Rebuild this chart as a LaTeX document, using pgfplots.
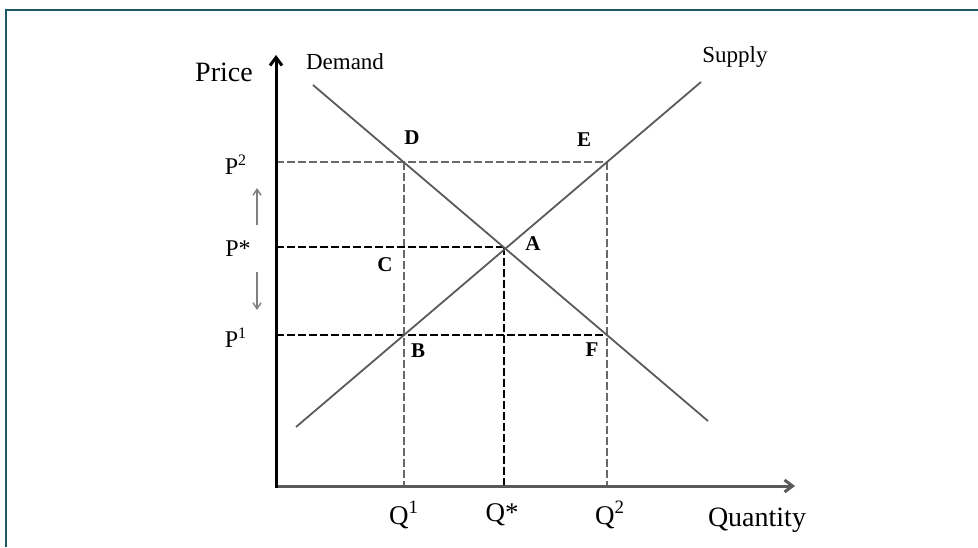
\documentclass[border=0pt]{standalone}
\usepackage{fontspec}
\setmainfont{Liberation Serif}
\usepackage{pgfplots}
\pgfplotsset{compat=1.18}
\usetikzlibrary{arrows.meta}
\definecolor{frameteal}{RGB}{28,88,102}
\definecolor{curvegray}{RGB}{90,90,90}
\definecolor{dashgray}{RGB}{105,105,105}
\definecolor{axisgray}{RGB}{90,90,90}

\begin{document}
\begin{tikzpicture}
\begin{axis}[
    width=489pt, height=273.5pt, scale only axis,
    xmin=-276, xmax=702, ymin=-61, ymax=486,
    hide axis, clip=false,
]
    % outer frame
    \addplot[frameteal, line width=1.3pt] coordinates {(-270,-61) (-270,476) (702,476)};
    % guide lines
    \addplot[dashgray, line width=1pt, dash pattern=on 4pt off 1.5pt] coordinates {(0,324) (331,324)};
    \addplot[dashgray, line width=1pt, dash pattern=on 4pt off 1.5pt] coordinates {(128,324) (128,0)};
    \addplot[dashgray, line width=1pt, dash pattern=on 4pt off 1.5pt] coordinates {(331,324) (331,0)};
    \addplot[black, line width=1pt, dash pattern=on 4pt off 1.5pt] coordinates {(0,239) (228,239)};
    \addplot[black, line width=1pt, dash pattern=on 4pt off 1.5pt] coordinates {(228,239) (228,0)};
    \addplot[black, line width=1pt, dash pattern=on 4pt off 1.5pt] coordinates {(0,151) (331,151)};
    % demand and supply
    \addplot[curvegray, line width=0.9pt] coordinates {(37,401) (432,65)};
    \addplot[curvegray, line width=0.9pt] coordinates {(20,59) (425,404)};
    % axes
    \addplot[axisgray, line width=1.5pt, -{Straight Barb[length=4pt,width=6pt]}] coordinates {(0,0) (519,0)};
    \addplot[black, line width=1.5pt, -{Straight Barb[length=4pt,width=6pt]}] coordinates {(0,-2) (0,431)};
    % price movement arrows
    \addplot[gray, line width=0.7pt, -{Straight Barb[length=3pt,width=4pt]}] coordinates {(-19,261) (-19,298)};
    \addplot[gray, line width=0.7pt, -{Straight Barb[length=3pt,width=4pt]}] coordinates {(-19,214) (-19,176)};
    % texts
    \node[font=\fontsize{14}{16}\selectfont] at (axis cs:-52,414) {Price};
    \node[font=\fontsize{14}{16}\selectfont] at (axis cs:481,-34) {Quantity};
    \node[font=\fontsize{11.5}{13}\selectfont] at (axis cs:69,424) {Demand};
    \node[font=\fontsize{11.5}{13}\selectfont] at (axis cs:459,429) {Supply};
    \node[font=\fontsize{10.5}{12}\selectfont\bfseries] at (axis cs:136,348) {D};
    \node[font=\fontsize{10.5}{12}\selectfont\bfseries] at (axis cs:308,346) {E};
    \node[font=\fontsize{10.5}{12}\selectfont\bfseries] at (axis cs:257,242) {A};
    \node[font=\fontsize{10.5}{12}\selectfont\bfseries] at (axis cs:109,221) {C};
    \node[font=\fontsize{10.5}{12}\selectfont\bfseries] at (axis cs:142,135) {B};
    \node[font=\fontsize{10.5}{12}\selectfont\bfseries] at (axis cs:316,136) {F};
    \node[font=\fontsize{12}{14}\selectfont] at (axis cs:-40,321) {P\textsuperscript{2}};
    \node[font=\fontsize{12}{14}\selectfont] at (axis cs:-38,237) {P*};
    \node[font=\fontsize{12}{14}\selectfont] at (axis cs:-40,148) {P\textsuperscript{1}};
    \node[font=\fontsize{13.5}{15}\selectfont] at (axis cs:128,-29) {Q\textsuperscript{1}};
    \node[font=\fontsize{13.5}{15}\selectfont] at (axis cs:226,-29) {Q*};
    \node[font=\fontsize{13.5}{15}\selectfont] at (axis cs:334,-29) {Q\textsuperscript{2}};
\end{axis}
\pgfresetboundingbox
\path (current axis.south west) rectangle (current axis.north east);
\end{tikzpicture}
\end{document}
